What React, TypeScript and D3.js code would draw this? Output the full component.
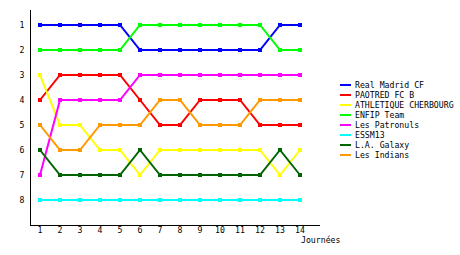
import React from "react";
import * as d3 from "d3";

const days = [1, 2, 3, 4, 5, 6, 7, 8, 9, 10, 11, 12, 13, 14];
const rankTicks = [1, 2, 3, 4, 5, 6, 7, 8];

const teamNames = [
  "Real Madrid CF",
  "PAOTRED FC B",
  "ATHLETIQUE CHERBOURG",
  "ENFIP Team",
  "Les Patronuls",
  "ESSM13",
  "L.A. Galaxy",
  "Les Indians",
];
const teamColors = ["#0000ff", "#ff0000", "#ffff00", "#00ff00", "#ff00ff", "#00ffff", "#006400", "#ff9900"];

const realMadrid = [1, 1, 1, 1, 1, 2, 2, 2, 2, 2, 2, 2, 1, 1];
const paotred = [4, 3, 3, 3, 3, 4, 5, 5, 4, 4, 4, 5, 5, 5];
const athletique = [3, 5, 5, 6, 6, 7, 6, 6, 6, 6, 6, 6, 7, 6];
const enfip = [2, 2, 2, 2, 2, 1, 1, 1, 1, 1, 1, 1, 2, 2];
const patronuls = [7, 4, 4, 4, 4, 3, 3, 3, 3, 3, 3, 3, 3, 3];
const essm13 = [8, 8, 8, 8, 8, 8, 8, 8, 8, 8, 8, 8, 8, 8];
const galaxy = [6, 7, 7, 7, 7, 6, 7, 7, 7, 7, 7, 7, 6, 7];
const indians = [5, 6, 6, 5, 5, 5, 4, 4, 5, 5, 5, 4, 4, 4];

const seriesValues = [realMadrid, paotred, athletique, enfip, patronuls, essm13, galaxy, indians];

const FONT = "'DejaVu Sans Mono', monospace";
const FS = 8.2;

export default function App() {
  const x = d3.scaleLinear().domain([0.5, 15]).range([30, 320]);
  const y = d3.scaleLinear().domain([0.4, 9]).range([10, 225]);
  const line = d3
    .line<number>()
    .x((_, i) => x(days[i]))
    .y((d) => y(d));

  return (
    <svg
      width={460}
      height={255}
      style={{ position: "absolute", left: 0, top: 0, background: "#fff" }}
      fontFamily={FONT}
    >
      <rect x={0} y={0} width={460} height={255} fill="#fff" />
      <line x1={30.5} y1={y(0.4)} x2={30.5} y2={225.5} stroke="#000" strokeWidth={1} shapeRendering="crispEdges" />
      <line x1={30} y1={225.5} x2={x(15)} y2={225.5} stroke="#000" strokeWidth={1} shapeRendering="crispEdges" />
      {rankTicks.map((r) => (
        <text key={r} x={22} y={y(r)} fontSize={FS} textAnchor="middle" dominantBaseline="central" fill="#000">
          {r}
        </text>
      ))}
      {days.map((d) => (
        <text key={d} x={x(d)} y={230} fontSize={FS} textAnchor="middle" dominantBaseline="central" fill="#000">
          {d}
        </text>
      ))}
      <text x={301} y={240} fontSize={FS} dominantBaseline="central" fill="#000">
        Journées
      </text>
      {seriesValues.map((vals, si) => (
        <g key={si}>
          <path d={line(vals) || ""} fill="none" stroke={teamColors[si]} strokeWidth={2} />
          {vals.map((v, i) => (
            <rect
              key={i}
              x={x(days[i]) - 2}
              y={y(v) - 2}
              width={4}
              height={4}
              fill={teamColors[si]}
              shapeRendering="crispEdges"
            />
          ))}
        </g>
      ))}
      {teamNames.map((name, i) => (
        <g key={name}>
          <rect x={340} y={84 + i * 10} width={11} height={2} fill={teamColors[i]} shapeRendering="crispEdges" />
          <text x={355} y={85 + i * 10} fontSize={FS} dominantBaseline="central" fill="#000">
            {name}
          </text>
        </g>
      ))}
    </svg>
  );
}
